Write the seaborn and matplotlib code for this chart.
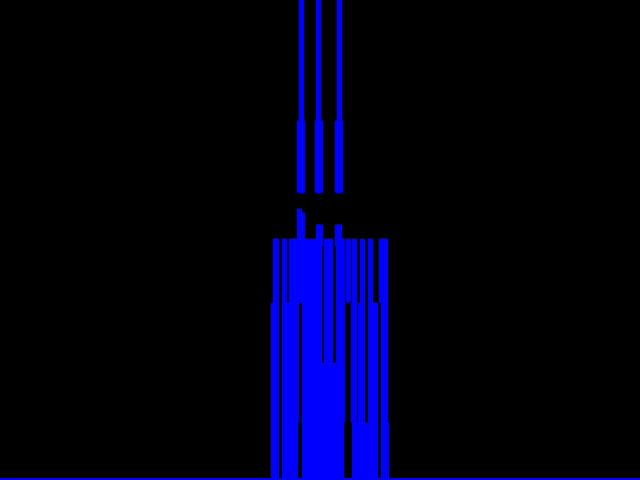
import numpy as np
import pandas as pd
import matplotlib
matplotlib.use("Agg")
import matplotlib.pyplot as plt
import seaborn as sns

sns.set_style("dark")

# vertical strokes of the trace: channel, start count, end count
stroke_x = [272.5, 274.9, 276.4, 284.0, 288.7, 290.7, 295.1, 296.0,
            303.6, 306.0, 309.4, 314.0, 319.35, 322.6, 325.95, 330.35,
            334.0, 337.65, 341.35, 342.3, 347.8, 352.7, 353.8, 357.0,
            359.7, 361.6, 365.5, 370.0, 375.0, 381.3, 382.8, 384.6, 386.4,
            # the three tall peaks (lower and upper parts)
            299.4, 302.3, 300.5, 298.65, 301.65,
            317.95, 320.05, 318.35, 316.65, 319.65,
            336.7, 339.3, 338.7, 336.65, 339.65]
stroke_lo = [0, 0, 0, 0, 0, 0, 0, 0.97,
             0, 0, 0, 0, 0, 0, 0, 0,
             0, 0, 0, 0.97, 2.97, 0.97, 0, 0,
             0, 0, 0, 0, 0, 2.97, 0, 0, 0,
             2.97, 2.97, 4.8, 4.8, 4.8,
             3.9, 3.9, 4.8, 4.8, 4.8,
             3.9, 3.9, 4.8, 4.8, 4.8]
stroke_hi = [2.97, 4.03, 4.03, 4.03, 2.97, 4.03, 4.03, 4.03,
             4.03, 2.97, 4.03, 4.03, 4.03, 1.97, 4.03, 4.03,
             1.97, 4.03, 4.03, 4.03, 4.03, 2.97, 4.03, 0.97,
             2.97, 4.03, 0.97, 4.03, 2.97, 4.03, 4.03, 4.03, 0.97,
             4.53, 4.47, 9.5, 6.0, 6.0,
             4.27, 4.27, 9.5, 6.0, 6.0,
             4.27, 4.27, 9.5, 6.0, 6.0]

baseline_x = [0, 640]
baseline_y = [0, 0]

rows = []
for i, (x, lo, hi) in enumerate(zip(stroke_x, stroke_lo, stroke_hi)):
    rows.append((i, x, lo))
    rows.append((i, x, hi))
df = pd.DataFrame(rows, columns=["stroke", "channel", "count"])

fig = plt.figure(figsize=(6.4, 4.8), dpi=100, facecolor="black")
ax = fig.add_axes([0, 0, 1, 1])
ax.set_facecolor("black")

sns.lineplot(x=baseline_x, y=baseline_y, color="blue", linewidth=3.8, ax=ax)
sns.lineplot(data=df, x="channel", y="count", units="stroke", estimator=None,
             color="blue", linewidth=3.8, solid_capstyle="butt", ax=ax)

ax.set_xlim(0, 640)
ax.set_ylim(0, 8)
ax.set_axis_off()

fig.savefig("out.png", dpi=100, facecolor="black")
